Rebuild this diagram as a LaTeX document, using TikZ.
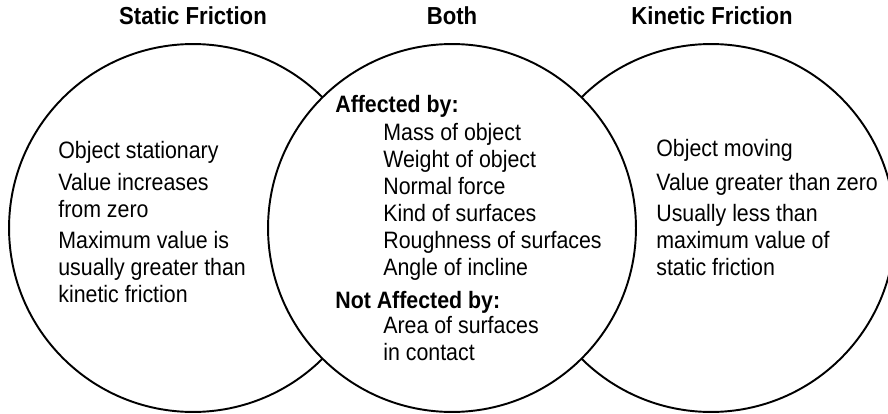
\documentclass[tikz,border=0pt]{standalone}
\usepackage{fontspec}
\setmainfont{Liberation Sans}[FakeStretch=0.9]
\usetikzlibrary{positioning}

\tikzset{
	ring/.style={draw, line width=1.1pt, fill=white},
	head/.style={anchor=base, inner sep=0pt, font=\fontsize{14}{16}\selectfont\bfseries},
	sub/.style={anchor=base west, inner sep=0pt, font=\fontsize{13.5}{15.2}\selectfont\bfseries},
	item/.style={anchor=base west, inner sep=0pt, align=left, font=\fontsize{13.5}{15.3}\selectfont}
}

\begin{document}
\begin{tikzpicture}[x=0.02cm, y=0.02cm]
			\useasboundingbox (0, 0) rectangle (888, 413);
			\clip (0, 0) rectangle (888, 413);
			\foreach \cx in {193, 711}
				\draw[ring] (\cx, 185) circle (3.68cm);
			\draw[ring] (452, 185) circle (3.68cm);

			\node[head] (static) at (193, 388) {Static Friction};
			\node[head] (both) at (452, 388) {Both};
			\node[head] (kinetic) at (712, 388) {Kinetic Friction};

			\node[item] (s1) at (58, 255) {Object stationary};
			\node[item] (s2) at (58, 196) {Value increases\\from zero};
			\node[item] (s3) at (58, 111) {Maximum value is\\usually greater than\\kinetic friction};

			\node[sub] (aff) at (335, 300) {Affected by:};
			\node[item] (afflist) at (383, 138) {Mass of object\\Weight of object\\Normal force\\Kind of surfaces\\Roughness of surfaces\\Angle of incline};
			\node[sub] (notaff) at (335, 105) {Not Affected by:};
			\node[item] (notafflist) at (383, 53) {Area of surfaces\\in contact};

			\node[item] (k1) at (656, 256) {Object moving};
			\node[item] (k2) at (656, 223) {Value greater than zero};
			\node[item] (k3) at (656, 138) {Usually less than\\maximum value of\\static friction};
		\end{tikzpicture}
\end{document}
